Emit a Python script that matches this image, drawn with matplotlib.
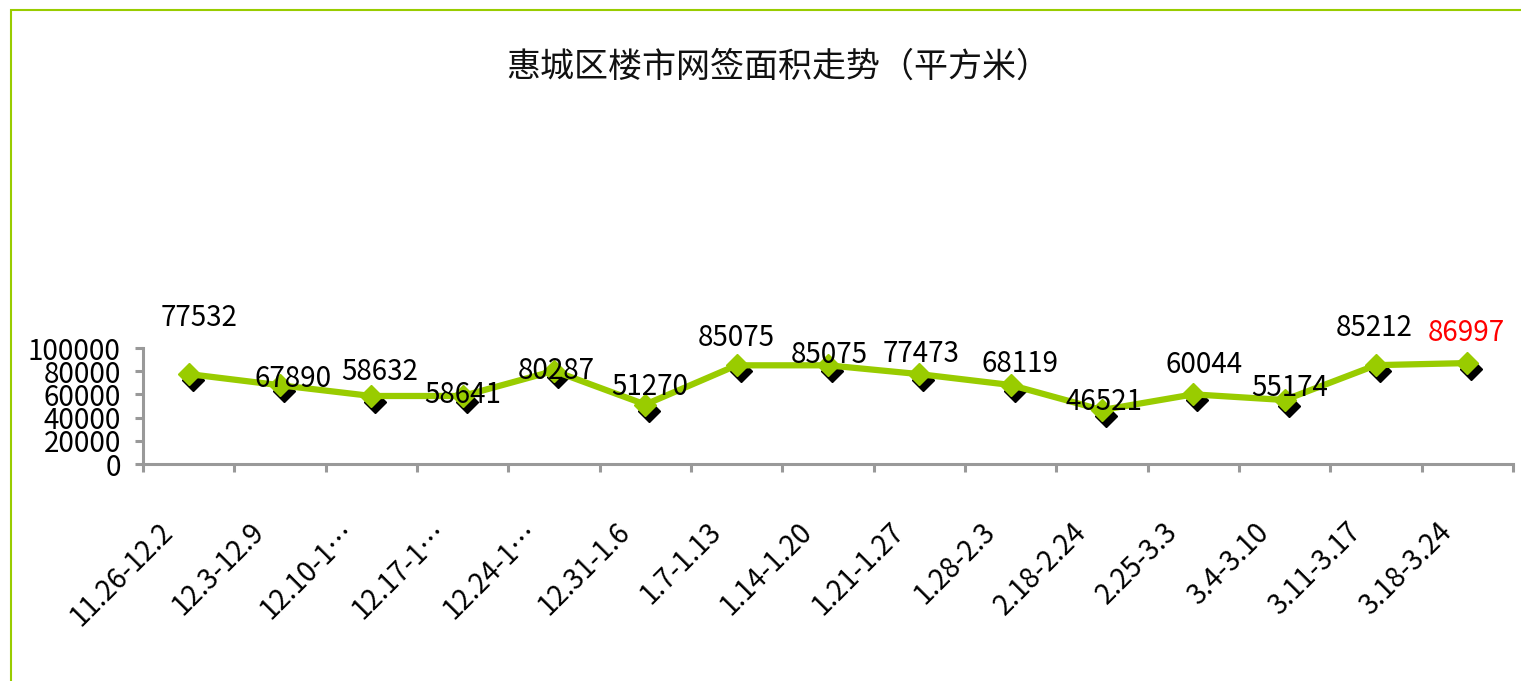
import matplotlib
matplotlib.use("Agg")
import matplotlib.pyplot as plt
from matplotlib.transforms import ScaledTranslation
from matplotlib.patches import Rectangle
import numpy as np

plt.rcParams['font.family'] = ['Noto Sans CJK SC', 'DejaVu Sans']

title = "惠城区楼市网签面积走势（平方米）"
categories = ["11.26-12.2", "12.3-12.9", "12.10-1…", "12.17-1…", "12.24-1…",
              "12.31-1.6", "1.7-1.13", "1.14-1.20", "1.21-1.27", "1.28-2.3",
              "2.18-2.24", "2.25-3.3", "3.4-3.10", "3.11-3.17", "3.18-3.24"]
values = [77532, 67890, 58632, 58641, 80287, 51270, 85075, 85075, 77473,
          68119, 46521, 60044, 55174, 85212, 86997]
yticks = [0, 20000, 40000, 60000, 80000, 100000]
ytick_labels = ["0", "20000", "40000", "60000", "80000", "100000"]

# label offsets in pixels (dx, dy up) relative to each point
label_dx = [10, 13, 8, 0, 2, 4, 0, 1, 2, 9, 2, 11, 5, -2, -1]
label_dy = [56, 6, 24, 1, 0, 18, 27, 10, 20, 21, 8, 29, 12, 37, 30]
label_colors = ["black"] * 14 + ["red"]

W, H, DPI = 1521, 681, 100
fig = plt.figure(figsize=(W / DPI, H / DPI), dpi=DPI)
green = "#99cc00"
axis_gray = "#999999"

# outer border (right/bottom edges off canvas)
fig.patches.append(Rectangle((11 / W, -0.1), 1.2, (H - 10) / H + 0.1,
                             transform=fig.transFigure, fill=False,
                             edgecolor=green, linewidth=1.5))

ax = fig.add_axes([143 / W, (H - 464) / H, (1513 - 143) / W, (464 - 348) / H])
x = np.arange(len(values))
px = 1 / DPI  # inches per pixel

# shadow markers
shadow = ScaledTranslation(4 * px, -6 * px, fig.dpi_scale_trans)
ax.plot(x, values, linestyle="none", marker="D", markersize=11.5,
        color="black", transform=ax.transData + shadow, zorder=2, clip_on=False)
ax.plot(x, values, color=green, linewidth=4.5, marker="D", markersize=11.5,
        markerfacecolor=green, markeredgecolor=green, zorder=3, clip_on=False)

for i, v in enumerate(values):
    ax.annotate(str(v), (x[i], v), xytext=(label_dx[i] * 0.72, label_dy[i] * 0.72),
                textcoords="offset points", ha="center", va="center",
                fontsize=20, color=label_colors[i], zorder=5, annotation_clip=False)

ax.set_xlim(-0.5, len(values) - 0.5)
ax.set_ylim(0, 100000)
ax.set_yticks(yticks)
ax.set_yticklabels(ytick_labels, fontsize=20)
ax.set_xticks(x)
ax.set_xticklabels(categories, fontsize=20, rotation=45, ha="right",
                   va="center", rotation_mode="anchor")
ax.set_xticks(np.arange(len(values) + 1) - 0.5, minor=True)
ax.tick_params(axis="x", which="major", length=0, pad=46)
ax.tick_params(axis="x", which="minor", length=6, width=2.2, color=axis_gray, direction="out")
ax.tick_params(axis="y", length=6, width=2.2, color=axis_gray, pad=10)
for lab in ax.get_xticklabels():
    lab.set_transform(lab.get_transform() + ScaledTranslation(-20 * px, 0, fig.dpi_scale_trans))

for s in ["top", "right"]:
    ax.spines[s].set_visible(False)
for s in ["left", "bottom"]:
    ax.spines[s].set_color(axis_gray)
    ax.spines[s].set_linewidth(2.2)
ax.patch.set_alpha(0)

fig.text(778 / W, 1 - 67 / H, title, ha="center", va="center", fontsize=24.5, color="#111111")

fig.savefig("out.png", dpi=DPI)
